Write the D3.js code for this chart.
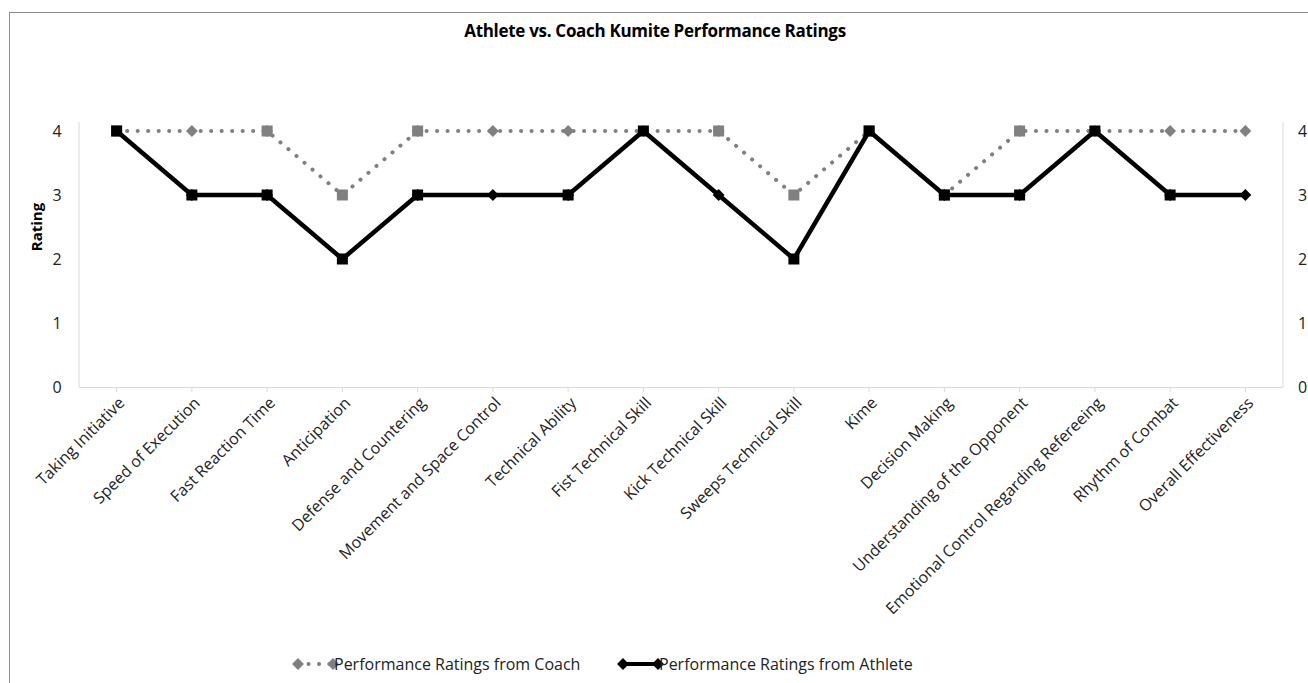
<!DOCTYPE html>
<html>
<head>
<meta charset="utf-8">
<script src="https://cdn.jsdelivr.net/npm/d3@7"></script>
<style>
  body { margin: 0; background: #fff; }
  svg { display: block; font-family: "Open Sans", "Liberation Sans", sans-serif; }
  svg text { font-family: "Open Sans", "Liberation Sans", sans-serif; }
</style>
</head>
<body>
<script>
// chart data
const categories = [
  "Taking Initiative", "Speed of Execution", "Fast Reaction Time", "Anticipation",
  "Defense and Countering", "Movement and Space Control", "Technical Ability",
  "Fist Technical Skill", "Kick Technical Skill", "Sweeps Technical Skill", "Kime",
  "Decision Making", "Understanding of the Opponent",
  "Emotional Control Regarding Refereeing", "Rhythm of Combat", "Overall Effectiveness"
];
const coachRatings   = [4, 4, 4, 3, 4, 4, 4, 4, 4, 3, 4, 3, 4, 4, 4, 4];
const athleteRatings = [4, 3, 3, 2, 3, 3, 3, 4, 3, 2, 4, 3, 3, 4, 3, 3];
const yTicks = [0, 1, 2, 3, 4];
const seriesNames = ["Performance Ratings from Coach", "Performance Ratings from Athlete"];

const W = 1308, H = 683;
const plotL = 79, plotR = 1283, plotT = 131, plotB = 387;

const svg = d3.select("body").append("svg")
  .attr("width", W)
  .attr("height", H);

// chart frame
svg.append("rect")
  .attr("x", 9.5).attr("y", 12.5)
  .attr("width", W + 20).attr("height", H)
  .attr("fill", "none").attr("stroke", "#8c8c8c");

svg.append("text")
  .attr("x", 655).attr("y", 37)
  .attr("text-anchor", "middle")
  .attr("font-size", 17).attr("font-weight", "bold")
  .attr("letter-spacing", -0.3)
  .text("Athlete vs. Coach Kumite Performance Ratings");

const x = d3.scaleBand().domain(categories).range([plotL, plotR]).padding(0);
const cx = d => x(d) + x.bandwidth() / 2;
const y = d3.scaleLinear().domain([0, 4]).range([plotB, plotT]);

// axes
const axisColor = "#d9d9d9";
svg.append("line").attr("x1", plotL).attr("x2", plotL).attr("y1", plotT - 9).attr("y2", plotB)
  .attr("stroke", axisColor);
svg.append("line").attr("x1", plotR).attr("x2", plotR).attr("y1", plotT - 9).attr("y2", plotB)
  .attr("stroke", axisColor);

const xAxis = svg.append("g").attr("transform", `translate(0,${plotB})`)
  .call(d3.axisBottom(x).tickSize(5).tickFormat(""));
xAxis.selectAll("path, line").attr("stroke", axisColor);
xAxis.select(".domain").attr("d", `M${plotL},0.5H${plotR}`);

xAxis.selectAll(".tick").append("text")
  .attr("transform", "translate(9,17) rotate(-45)")
  .attr("text-anchor", "end")
  .attr("fill", "#222")
  .attr("font-size", 16)
  .text(d => d);

svg.append("g").selectAll("text").data(yTicks).join("text")
  .attr("x", 57).attr("y", d => y(d) + 6)
  .attr("text-anchor", "middle")
  .attr("font-size", 16).attr("fill", "#222")
  .text(d => d);

svg.append("g").selectAll("text").data(yTicks).join("text")
  .attr("x", 1298).attr("y", d => y(d) + 6)
  .attr("font-size", 16).attr("fill", "#222")
  .text(d => d);

svg.append("text")
  .attr("transform", `translate(42,${(y(2) + y(3)) / 2}) rotate(-90)`)
  .attr("text-anchor", "middle")
  .attr("font-size", 15).attr("font-weight", "bold")
  .text("Rating");

// marker shape depending on how the line turns at a point
function shapeAt(vals, i) {
  if (i === 0) return "square";
  if (i === vals.length - 1) return "diamond";
  const a = Math.sign(vals[i] - vals[i - 1]);
  const b = Math.sign(vals[i + 1] - vals[i]);
  if (a === 0 && b === 0) return "diamond";
  if (a !== 0 && b !== 0) return a === b ? "diamond" : "square";
  return "star";
}

const diamond = d3.symbol(d3.symbolDiamond2, 90)();

function drawMarkers(g, vals, color) {
  vals.forEach((v, i) => {
    const s = shapeAt(vals, i);
    const px = cx(categories[i]), py = y(v);
    if (s === "diamond" || s === "star") {
      g.append("path")
        .attr("d", diamond)
        .attr("transform", `translate(${px},${py})`)
        .attr("fill", color);
    }
    if (s === "square" || s === "star") {
      g.append("rect")
        .attr("x", px - 5.5).attr("y", py - 5.5)
        .attr("width", 11).attr("height", 11)
        .attr("fill", color);
    }
  });
}

const line = d3.line().x((d, i) => cx(categories[i])).y(d => y(d));

const gCoach = svg.append("g");
gCoach.append("path")
  .datum(coachRatings)
  .attr("d", line)
  .attr("fill", "none")
  .attr("stroke", "#808080")
  .attr("stroke-width", 4)
  .attr("stroke-linecap", "round")
  .attr("stroke-dasharray", "0.1 10.4");
drawMarkers(gCoach, coachRatings, "#808080");

const gAth = svg.append("g");
gAth.append("path")
  .datum(athleteRatings)
  .attr("d", line)
  .attr("fill", "none")
  .attr("stroke", "#000")
  .attr("stroke-width", 4.5);
drawMarkers(gAth, athleteRatings, "#000");

// legend
const legend = [
  { name: seriesNames[0], color: "#808080", dash: "0.1 10.4", x: 298 },
  { name: seriesNames[1], color: "#000", dash: null, x: 623 }
];
const ly = 664;
legend.forEach(l => {
  const g = svg.append("g");
  g.append("line")
    .attr("x1", l.x).attr("x2", l.x + 35).attr("y1", ly).attr("y2", ly)
    .attr("stroke", l.color).attr("stroke-width", 4)
    .attr("stroke-linecap", l.dash ? "round" : "butt")
    .attr("stroke-dasharray", l.dash);
  [l.x, l.x + 35].forEach(mx => {
    g.append("path")
      .attr("d", diamond)
      .attr("transform", `translate(${mx},${ly})`)
      .attr("fill", l.color);
  });
  g.append("text")
    .attr("x", l.x + 36).attr("y", ly + 6)
    .attr("font-size", 16).attr("fill", "#222")
    .text(l.name);
});
</script>
</body>
</html>
